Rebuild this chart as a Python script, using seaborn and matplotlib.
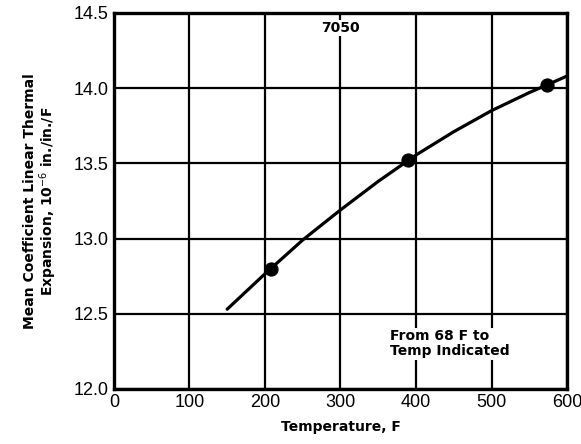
import matplotlib
matplotlib.use("Agg")
import matplotlib.pyplot as plt
import seaborn as sns
import pandas as pd

# curve
curve_temp = [150, 200, 250, 300, 350, 400, 450, 500, 550, 600]
curve_cte = [12.53, 12.765, 12.99, 13.19, 13.38, 13.555, 13.71, 13.85, 13.97, 14.08]

# measured points
pt_temp = [208, 389, 573]
pt_cte = [12.80, 13.52, 14.02]

x_ticks = [0, 100, 200, 300, 400, 500, 600]
y_ticks = [12.0, 12.5, 13.0, 13.5, 14.0, 14.5]

sns.set_style("white")
plt.rcParams['font.family'] = ['Liberation Sans', 'DejaVu Sans']
plt.rcParams.update({"text.color": "black", "axes.labelcolor": "black",
                     "xtick.color": "black", "ytick.color": "black"})

curve = pd.DataFrame({"temp": curve_temp, "cte": curve_cte})
pts = pd.DataFrame({"temp": pt_temp, "cte": pt_cte})

fig = plt.figure(figsize=(5.81, 4.44), dpi=100)
ax = fig.add_axes([0.196, 0.124, 0.78, 0.847])

sns.lineplot(data=curve, x="temp", y="cte", ax=ax, color="black", lw=2.3, zorder=3)
sns.scatterplot(data=pts, x="temp", y="cte", ax=ax, color="black", s=90, zorder=4,
                edgecolor="black")

ax.set_xlim(0, 600)
ax.set_ylim(12.0, 14.5)
ax.set_xticks(x_ticks)
ax.set_yticks(y_ticks)
ax.set_xticklabels([str(t) for t in x_ticks], fontsize=13)
ax.set_yticklabels([f"{t:.1f}" for t in y_ticks], fontsize=13)
ax.tick_params(length=0, pad=4, colors="black")
ax.grid(True, color="black", lw=1.6)
for s in ax.spines.values():
    s.set_color("black")
    s.set_linewidth(2.4)

bold = dict(family="DejaVu Sans", fontweight="bold", fontsize=10, color="black")
ax.set_xlabel("Temperature, F", labelpad=6, **bold)
ax.set_ylabel("Mean Coefficient Linear Thermal\nExpansion, 10$^{-6}$ in./in./F",
              labelpad=10, linespacing=1.05, **bold)

ax.text(300, 14.40, "7050", ha="center", va="center", zorder=5,
        bbox=dict(facecolor="white", edgecolor="none", pad=1), **bold)
ax.text(366, 12.30, "From 68 F to\nTemp Indicated", ha="left", va="center",
        linespacing=1.1, zorder=5,
        bbox=dict(facecolor="white", edgecolor="none", pad=1), **bold)

fig.savefig("out.png", dpi=100)
